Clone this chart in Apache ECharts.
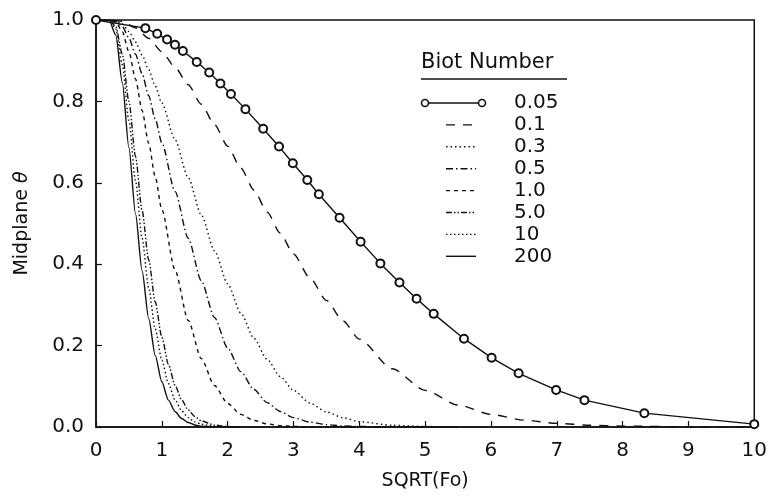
<!DOCTYPE html>
<html>
<head>
    <meta charset="utf-8">
    <title>Midplane temperature vs SQRT(Fo)</title>
    <script src="https://cdn.jsdelivr.net/npm/echarts@6/dist/echarts.min.js"></script>
</head>
<body style="margin:0;background:#fff;">
    <div id="main" style="width: 770px;height:496px;"></div>
    <script type="text/javascript">
        // x = SQRT(Fo), y = midplane theta, one array per Biot number
        var xCircle = [0, 0.75, 0.93, 1.08, 1.2, 1.32, 1.53, 1.72, 1.89, 2.05, 2.27, 2.54, 2.78, 2.99, 3.21, 3.385, 3.70, 4.02, 4.32, 4.61, 4.87, 5.13, 5.59, 6.01, 6.42, 6.99, 7.42, 8.33, 10.0];
        var bi005 = [1.0, 0.980, 0.966, 0.952, 0.939, 0.924, 0.897, 0.871, 0.844, 0.818, 0.781, 0.733, 0.689, 0.648, 0.607, 0.572, 0.514, 0.455, 0.402, 0.355, 0.315, 0.278, 0.217, 0.170, 0.132, 0.091, 0.066, 0.034, 0.007];

        var xWide = [0, 0.2, 0.4, 0.6, 0.8, 1.0, 1.2, 1.4, 1.6, 1.8, 2.0, 2.2, 2.4, 2.6, 2.8, 3.0, 3.25, 3.5, 3.75, 4.0, 4.5, 5.0, 5.5, 6.0, 6.5, 7.0, 7.5, 8.0, 9.0, 10.0];
        var bi01 = [1, 1.0, 0.997, 0.981, 0.955, 0.922, 0.884, 0.841, 0.793, 0.743, 0.690, 0.636, 0.582, 0.528, 0.476, 0.425, 0.366, 0.311, 0.261, 0.216, 0.143, 0.090, 0.054, 0.031, 0.017, 0.0089, 0.0044, 0.0021, 0.0004, 0.0001];

        var xMid = [0, 0.2, 0.3, 0.4, 0.5, 0.6, 0.7, 0.8, 0.9, 1.0, 1.2, 1.4, 1.6, 1.8, 2.0, 2.2, 2.4, 2.6, 2.8, 3.0, 3.25, 3.5, 3.75, 4.0, 4.5, 5.0, 5.5];
        var bi03 = [1, 1.0, 0.998, 0.990, 0.972, 0.946, 0.914, 0.878, 0.838, 0.796, 0.706, 0.613, 0.521, 0.433, 0.352, 0.280, 0.218, 0.166, 0.124, 0.090, 0.059, 0.037, 0.023, 0.013, 0.0042, 0.0012, 0.0003];
        var bi05 = [1, 1.0, 0.997, 0.984, 0.956, 0.916, 0.868, 0.814, 0.757, 0.698, 0.579, 0.464, 0.359, 0.269, 0.194, 0.136, 0.092, 0.060, 0.038, 0.023, 0.012, 0.0058, 0.0026, 0.0012, 0.0002, 0, 0];
        var bi1 = [1, 1.0, 0.995, 0.971, 0.922, 0.855, 0.778, 0.697, 0.615, 0.534, 0.386, 0.262, 0.168, 0.102, 0.058, 0.031, 0.016, 0.0075, 0.0034, 0.0014, 0.0005, 0.0001, 0, 0, 0, 0, 0];

        var xFine = [0, 0.2, 0.3, 0.4, 0.5, 0.6, 0.7, 0.8, 0.9, 1.0, 1.1, 1.2, 1.3, 1.4, 1.5, 1.6, 1.8, 2.0, 2.2];
        var bi5 = [1, 1.0, 0.984, 0.916, 0.800, 0.665, 0.532, 0.411, 0.307, 0.221, 0.154, 0.103, 0.067, 0.042, 0.026, 0.015, 0.0046, 0.0012, 0.0003];
        var bi10 = [1, 1.0, 0.978, 0.890, 0.753, 0.605, 0.464, 0.342, 0.241, 0.164, 0.107, 0.067, 0.040, 0.023, 0.013, 0.0068, 0.0017, 0.0004, 0];
        var bi200 = [1, 0.999, 0.963, 0.846, 0.686, 0.524, 0.384, 0.267, 0.176, 0.111, 0.066, 0.038, 0.021, 0.011, 0.005, 0.002, 0.0003, 0, 0];

        var biotNames = ['0.05', '0.1', '0.3', '0.5', '1.0', '5.0', '10', '200'];
        var xTicks = [0, 1, 2, 3, 4, 5, 6, 7, 8, 9, 10];
        var yTicks = [0, 0.2, 0.4, 0.6, 0.8, 1.0];

        var font = 'DejaVu Sans';
        var ink = '#111';
        // line pattern per Biot number, same order as biotNames
        var dashes = ['solid', [9, 8], [1.5, 3], [7, 3, 1.5, 3], [4, 4], [6, 2, 1.5, 2, 1.5, 2], [1.5, 2.5], 'solid'];

        function pairs(xs, ys) {
            return xs.map(function (x, i) { return [x, ys[i]]; });
        }

        function curve(i, xs, ys) {
            return {
                name: biotNames[i],
                type: 'line',
                data: pairs(xs, ys),
                symbol: 'none',
                smooth: 0.25,
                smoothMonotone: 'x',
                lineStyle: { color: ink, width: 1.4, type: dashes[i] },
                itemStyle: { color: ink },
                emphasis: { disabled: true }
            };
        }

        // hand-made key: "Biot Number" heading, underline, then one row per curve
        var keyTop = 103, keyStep = 21.9;
        var key = [
            { type: 'text', left: 421, top: 52, style: { text: 'Biot Number', font: '21px "DejaVu Sans"', fill: ink } },
            { type: 'line', shape: { x1: 421, y1: 79, x2: 567, y2: 79 }, style: { stroke: ink, lineWidth: 1.5 } }
        ];
        biotNames.forEach(function (n, i) {
            var y = keyTop + i * keyStep;
            var d = dashes[i] === 'solid' ? null : dashes[i];
            if (i === 0) {
                key.push({ type: 'line', shape: { x1: 429, y1: y, x2: 478, y2: y }, style: { stroke: ink, lineWidth: 1.4 } });
                key.push({ type: 'circle', shape: { cx: 425, cy: y, r: 3.5 }, style: { fill: '#fff', stroke: ink, lineWidth: 1.6 } });
                key.push({ type: 'circle', shape: { cx: 482, cy: y, r: 3.5 }, style: { fill: '#fff', stroke: ink, lineWidth: 1.6 } });
            } else {
                key.push({ type: 'line', shape: { x1: 446, y1: y, x2: 476, y2: y }, style: { stroke: ink, lineWidth: 1.4, lineDash: d } });
            }
            key.push({
                type: 'text', x: 514, y: y,
                style: { text: n, font: '20px "DejaVu Sans"', fill: ink, textVerticalAlign: 'middle', verticalAlign: 'middle' }
            });
        });

        var myChart = echarts.init(document.getElementById('main'));
        var option = {
            animation: false,
            backgroundColor: '#fff',
            grid: {
                left: 96, right: 14, top: 20, bottom: 69,
                show: true, borderColor: ink, borderWidth: 1.5
            },
            xAxis: {
                type: 'value',
                min: xTicks[0], max: xTicks[xTicks.length - 1], interval: 1,
                name: 'SQRT(Fo)', nameLocation: 'middle', nameGap: 45,
                nameTextStyle: { fontFamily: font, fontSize: 19, color: ink },
                axisLine: { show: true, lineStyle: { color: ink, width: 1.5 } },
                axisTick: { show: true, inside: true, length: 6, lineStyle: { color: ink, width: 1.2 } },
                axisLabel: { fontFamily: font, fontSize: 20, color: ink, margin: 14 },
                splitLine: { show: false }
            },
            yAxis: {
                type: 'value',
                min: yTicks[0], max: yTicks[yTicks.length - 1], interval: 0.2,
                name: '{a|Midplane }{b|θ}', nameLocation: 'middle', nameGap: 64,
                nameTextStyle: {
                    rich: {
                        a: { fontFamily: font, fontSize: 19, color: ink },
                        b: { fontFamily: font, fontSize: 19, color: ink, fontStyle: 'italic' }
                    }
                },
                axisLine: { show: true, lineStyle: { color: ink, width: 1.5 } },
                axisTick: { show: true, inside: true, length: 6, lineStyle: { color: ink, width: 1.2 } },
                axisLabel: {
                    fontFamily: font, fontSize: 20, color: ink, margin: 12,
                    formatter: function (v) { return v.toFixed(1); }
                },
                splitLine: { show: false }
            },
            graphic: key,
            series: [
                {
                    name: biotNames[0],
                    type: 'line',
                    data: pairs(xCircle, bi005),
                    symbol: 'emptyCircle',
                    symbolSize: 8,
                    showSymbol: true,
                    clip: false,
                    lineStyle: { color: ink, width: 1.4 },
                    itemStyle: { color: ink, borderColor: ink, borderWidth: 1.6 },
                    emphasis: { disabled: true }
                },
                curve(1, xWide, bi01),
                curve(2, xMid, bi03),
                curve(3, xMid, bi05),
                curve(4, xMid, bi1),
                curve(5, xFine, bi5),
                curve(6, xFine, bi10),
                curve(7, xFine, bi200)
            ]
        };
        myChart.setOption(option);
    </script>
</body>
</html>
